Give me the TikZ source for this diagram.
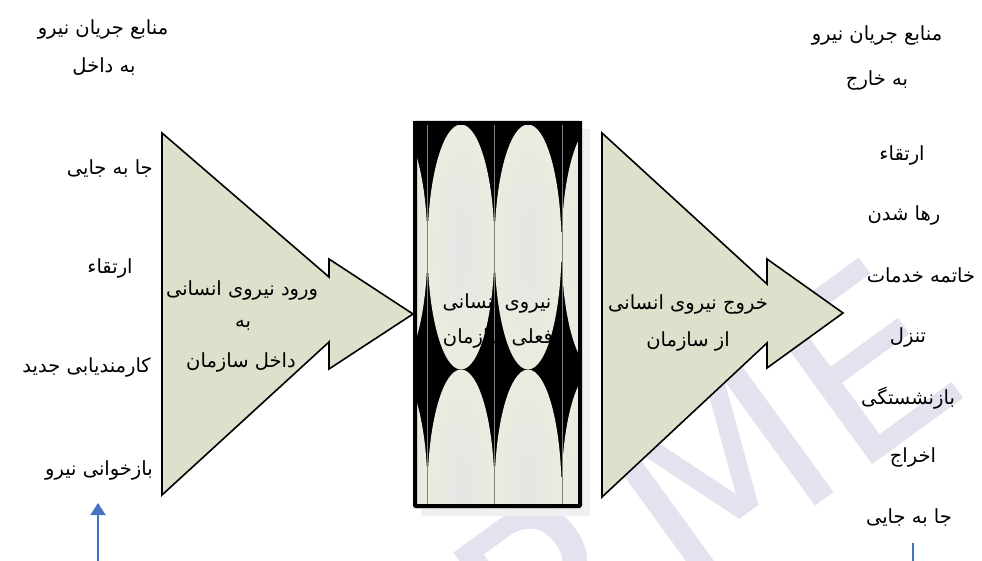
\documentclass[tikz,border=0pt]{standalone}
\usepackage{fontspec}
\usetikzlibrary{arrows.meta}
\newfontfamily\fa[Script=Arabic]{DejaVu Sans}
\newfontfamily\wmfont{DejaVu Sans}
\TeXXeTstate=1
\definecolor{arrowfill}{RGB}{221,225,204}
\definecolor{cream}{RGB}{233,236,223}
\definecolor{creamc}{RGB}{229,229,229}
\definecolor{wm}{RGB}{229,225,239}
\definecolor{bluel}{RGB}{68,114,196}
\definecolor{shadowc}{RGB}{240,240,240}
\tikzset{
  lbl/.style={font=\fa\fontsize{19.5}{22}\selectfont, inner sep=0pt, text=black},
  bigarrow/.style={fill=arrowfill, draw=black, line width=1.6pt, line join=miter},
  blueline/.style={draw=bluel, line width=2pt},
}
\begin{document}
\begin{tikzpicture}[x=1pt,y=-1pt]
\useasboundingbox (0,0) rectangle (982,561);
% watermark
\node[font=\wmfont\fontsize{240}{240}\selectfont, text=wm, rotate=36, inner sep=0pt] (wmark) at (705,478) {P.ME};
% inflow arrow
\draw[bigarrow] (162,133) -- (329,277) -- (329,259) -- (413,314) -- (329,369) -- (329,342) -- (162,495) -- cycle;
\coordinate (intip) at (413,314);
% outflow arrow
\draw[bigarrow] (602,133) -- (767,284) -- (767,259) -- (843,313) -- (767,368) -- (767,343) -- (602,497) -- cycle;
% central box
\fill[shadowc] (421,129) rectangle (590,516);
\begin{scope}
\clip (413,121) rectangle (582,508);
\fill[black] (413,121) rectangle (582,508);
\foreach \cx in {394,461,528,595}
  \foreach \cy in {247,492}
    \shade[inner color=creamc, outer color=cream] (\cx,\cy) ellipse (33.5 and 122.5);
\foreach \xx in {427,494,562}
  \draw[gray, line width=0.6pt] (\xx,121) -- (\xx,508);
\end{scope}
\draw[line width=4pt, rounded corners=1pt] (415,123) rectangle (580,506);
% left texts
\node[lbl] (lt1) at (103,29) {\beginR منابع جریان نیرو\endR};
\node[lbl] (lt2) at (104,67) {\beginR به داخل\endR};
\node[lbl, anchor=east] (li1) at (153,169) {\beginR جا به جایی\endR};
\node[lbl] (li2) at (110,268) {\beginR ارتقاء\endR};
\node[lbl, anchor=east] (li3) at (151,367) {\beginR کارمندیابی جدید\endR};
\node[lbl, anchor=east] (li4) at (153,470) {\beginR بازخوانی نیرو\endR};
% inflow arrow texts
\node[lbl] (in1) at (242,290) {\beginR ورود نیروی انسانی\endR};
\node[lbl] (in2) at (243,325) {\beginR به\endR};
\node[lbl] (in3) at (241,362) {\beginR داخل سازمان\endR};
% center texts
\node[lbl] (c1) at (497,303) {\beginR نیروی انسانی\endR};
\node[lbl] (c2) at (498,338) {\beginR فعلی سازمان\endR};
% outflow arrow texts
\node[lbl] (out1) at (688,304) {\beginR خروج نیروی انسانی\endR};
\node[lbl] (out2) at (688,341) {\beginR از سازمان\endR};
% right texts
\node[lbl] (rt1) at (877,35) {\beginR منابع جریان نیرو\endR};
\node[lbl] (rt2) at (877,80) {\beginR به خارج\endR};
\node[lbl] (ri1) at (902,155) {\beginR ارتقاء\endR};
\node[lbl] (ri2) at (904,215) {\beginR رها شدن\endR};
\node[lbl] (ri3) at (921,275) {\beginR خاتمه خدمات\endR};
\node[lbl] (ri4) at (908,337) {\beginR تنزل\endR};
\node[lbl] (ri5) at (908,398) {\beginR بازنشستگی\endR};
\node[lbl] (ri6) at (913,457) {\beginR اخراج\endR};
\node[lbl] (ri7) at (909,518) {\beginR جا به جایی\endR};
% blue connectors
\coordinate (bl0) at (98,566);
\coordinate (bl1) at (98,503);
\draw[blueline, -{Triangle[width=15pt,length=12pt]}] (bl0) -- (bl1);
\coordinate (br0) at (913,543);
\coordinate (br1) at (913,566);
\draw[blueline] (br0) -- (br1);
\end{tikzpicture}
\end{document}
